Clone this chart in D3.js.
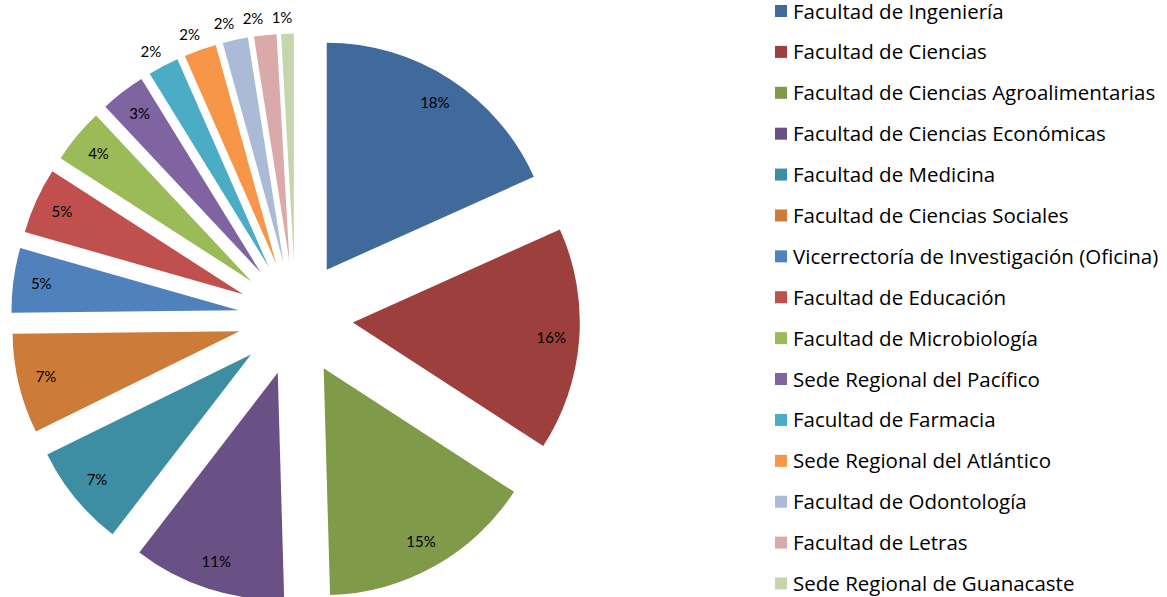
<!DOCTYPE html>
<html>
<head>
<meta charset="utf-8">
<script src="https://cdn.jsdelivr.net/npm/d3@7"></script>
<style>
	body { margin: 0; background: #fff; }
	svg { display: block; }
	.slice-label { font-family: Lato, "Open Sans", sans-serif; font-size: 15px; fill: #000; }
	.legend text { font-family: "Open Sans", Lato, sans-serif; font-size: 20.5px; fill: #000; }
</style>
</head>
<body>
<div id="chart"></div>
<script>
// share of each unit (percent)
var units = [
	"Facultad de Ingeniería",
	"Facultad de Ciencias",
	"Facultad de Ciencias Agroalimentarias",
	"Facultad de Ciencias Económicas",
	"Facultad de Medicina",
	"Facultad de Ciencias Sociales",
	"Vicerrectoría de Investigación (Oficina)",
	"Facultad de Educación",
	"Facultad de Microbiología",
	"Sede Regional del Pacífico",
	"Facultad de Farmacia",
	"Sede Regional del Atlántico",
	"Facultad de Odontología",
	"Facultad de Letras",
	"Sede Regional de Guanacaste"
];
var shares = [18.3, 15.9, 15.4, 10.9, 7.3, 7.1, 4.6, 4.7, 3.9, 3.2, 2.2, 2.3, 1.8, 1.6, 0.9];
var labels = ["18%", "16%", "15%", "11%", "7%", "7%", "5%", "5%", "4%", "3%", "2%", "2%", "2%", "2%", "1%"];
var colors = [
	"#3f6a9b", "#9d3f3d", "#7f9a48", "#695185", "#3d8da3", "#cc7b38",
	"#4f81bd", "#c0504d", "#9bbb59", "#8064a2", "#4bacc6", "#f79646",
	"#aabad7", "#d9aaa9", "#c6d6ac"
];

var width = 1167,
	height = 597,
	cx = 295.5,
	cy = 318,
	radius = 227,
	explode = 57.5,
	labelInside = 199,
	labelOutside = 243;

var data = units.map(function(d, i) {
	return { unit: d, value: shares[i], label: labels[i], color: colors[i] };
});

var svg = d3.select("#chart").append("svg")
	.attr("width", width)
	.attr("height", height);

var pie = d3.pie()
	.sort(null)
	.value(function(d) { return d.value; });

var arc = d3.arc()
	.innerRadius(0)
	.outerRadius(radius);

var arcs = pie(data);

function mid(d) { return (d.startAngle + d.endAngle) / 2; }
function offset(d, dist) {
	var a = mid(d);
	return [Math.sin(a) * dist, -Math.cos(a) * dist];
}

var plot = svg.append("g")
	.attr("transform", "translate(" + cx + "," + cy + ")");

// every slice is pulled out along its bisector
var slices = plot.selectAll("g.slice")
	.data(arcs)
	.enter().append("g")
	.attr("class", "slice")
	.attr("transform", function(d) {
		var o = offset(d, explode);
		return "translate(" + o[0] + "," + o[1] + ")";
	});

slices.append("path")
	.attr("d", arc)
	.attr("fill", function(d) { return d.data.color; });

// labels: inside for big slices, outside for the thin ones
var prevX = null;
var labelPos = arcs.slice().reverse().map(function(d) {
	var small = d.data.value < 3;
	var o = offset(d, explode + (small ? labelOutside : labelInside));
	var x = o[0], y = o[1];
	if (small) {
		x -= 5;
		// push to the left so neighbouring labels do not touch
		if (prevX != null && x > prevX - 29) x = prevX - 29;
		prevX = x;
	}
	return { d: d, x: x, y: y };
}).reverse();

plot.selectAll("text.slice-label")
	.data(labelPos)
	.enter().append("text")
	.attr("class", "slice-label")
	.attr("x", function(p) { return p.x; })
	.attr("y", function(p) { return p.y + 5; })
	.attr("text-anchor", "middle")
	.text(function(p) { return p.d.data.label; });

// legend
var yLegend = d3.scalePoint()
	.domain(units)
	.range([11.5, 584]);

var legend = svg.append("g")
	.attr("class", "legend");

var rows = legend.selectAll("g.row")
	.data(data)
	.enter().append("g")
	.attr("class", "row")
	.attr("transform", function(d) { return "translate(775," + yLegend(d.unit) + ")"; });

rows.append("rect")
	.attr("x", 0)
	.attr("y", -6.5)
	.attr("width", 12)
	.attr("height", 12)
	.attr("fill", function(d) { return d.color; });

rows.append("text")
	.attr("x", 18)
	.attr("y", 7)
	.text(function(d) { return d.unit; });
</script>
</body>
</html>
